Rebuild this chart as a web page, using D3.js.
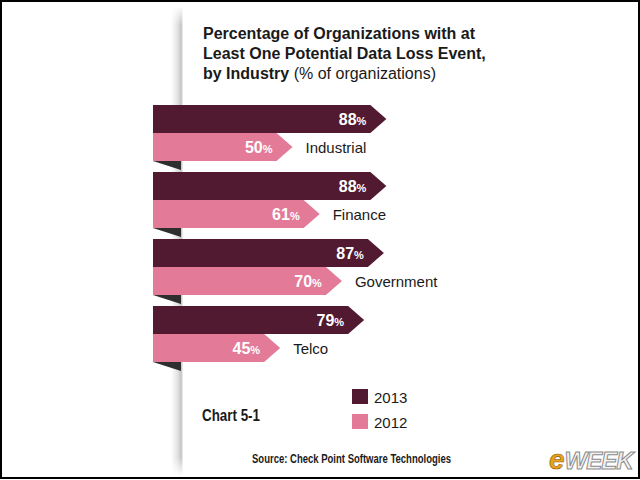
<!DOCTYPE html>
<html><head><meta charset="utf-8">
<script src="https://cdn.jsdelivr.net/npm/d3@7"></script>
<style>body{margin:0;background:#fff}svg{display:block}</style>
</head><body>
<script>
const categories = ["Industrial", "Finance", "Government", "Telco"];
const values2013 = [88, 88, 87, 79];
const values2012 = [50, 61, 70, 45];
const seriesNames = ["2013", "2012"];
const colors = {"2013": "#521a30", "2012": "#e27a98"};

const W = 640, H = 480;
const svg = d3.select("body").append("svg").attr("width", W).attr("height", H);

const defs = svg.append("defs");
const g1 = defs.append("linearGradient").attr("id", "shade").attr("x1", "0").attr("x2", "1");
g1.append("stop").attr("offset", "0").attr("stop-color", "#fff");
g1.append("stop").attr("offset", "0.55").attr("stop-color", "#e2e2e2");
g1.append("stop").attr("offset", "0.85").attr("stop-color", "#c4c4c4");
g1.append("stop").attr("offset", "1").attr("stop-color", "#f4f4f4");
const g2 = defs.append("linearGradient").attr("id", "vfade").attr("x1", "0").attr("x2", "0").attr("y1", "0").attr("y2", "1");
g2.append("stop").attr("offset", "0").attr("stop-color", "#fff").attr("stop-opacity", 1);
g2.append("stop").attr("offset", "0.04").attr("stop-color", "#fff").attr("stop-opacity", 0);
g2.append("stop").attr("offset", "0.96").attr("stop-color", "#fff").attr("stop-opacity", 0);
g2.append("stop").attr("offset", "1").attr("stop-color", "#fff").attr("stop-opacity", 1);

svg.append("rect").attr("width", W).attr("height", H).attr("fill", "#fff");
// spine shadow
svg.append("rect").attr("x", 171).attr("y", 6).attr("width", 12).attr("height", 470).attr("fill", "url(#shade)");
svg.append("rect").attr("x", 171).attr("y", 6).attr("width", 12).attr("height", 470).attr("fill", "url(#vfade)");

// title
const title = svg.append("text").attr("x", 203).attr("y", 39)
  .attr("font-family", "Liberation Sans, Arial, sans-serif").attr("font-size", 16).attr("fill", "#1a1a1a");
title.append("tspan").attr("x", 203).attr("font-weight", "bold").text("Percentage of Organizations with at");
title.append("tspan").attr("x", 203).attr("dy", 20).attr("font-weight", "bold").text("Least One Potential Data Loss Event,");
const t3 = title.append("tspan").attr("x", 203).attr("dy", 20);
t3.append("tspan").attr("font-weight", "bold").text("by Industry ");
t3.append("tspan").attr("font-weight", "normal").text("(% of organizations)");

const x = d3.scaleLinear().domain([0, 100]).range([153, 400]);
const y = d3.scaleBand().domain(categories).range([105, 362]).paddingInner(11 / 67);
const bh = y.bandwidth() / 2;
const tip = 16;

function arrowPath(v, y0) {
  const x0 = x(0), x1 = x(v);
  return `M${x0},${y0}L${x1},${y0}L${x1 + tip},${y0 + bh / 2}L${x1},${y0 + bh}L${x0},${y0 + bh}Z`;
}

const groups = svg.selectAll("g.grp").data(categories).join("g").attr("class", "grp");
groups.each(function (cat, i) {
  const g = d3.select(this);
  const y0 = y(cat);
  const rows = [{s: "2013", v: values2013[i], y: y0}, {s: "2012", v: values2012[i], y: y0 + bh}];
  // fold
  g.append("path").attr("d", `M${x(0)},${y0 + 2 * bh}L${x(0) + 28},${y0 + 2 * bh}L${x(0) + 28},${y0 + 2 * bh + 9}Z`).attr("fill", "#2e2e2e");
  rows.forEach(r => {
    g.append("path").attr("d", arrowPath(r.v, r.y)).attr("fill", colors[r.s]);
    const t = g.append("text").attr("x", x(r.v) - 4).attr("y", r.y + bh / 2 + 5.5)
      .attr("text-anchor", "end").attr("fill", "#fff").attr("font-weight", "bold")
      .attr("font-family", "Liberation Sans, Arial, sans-serif");
    t.append("tspan").attr("font-size", 16).text(r.v);
    t.append("tspan").attr("font-size", 11).text("%");
  });
  g.append("text").attr("x", x(values2012[i]) + tip + 13).attr("y", y0 + bh * 1.5 + 5.5)
    .attr("font-family", "Liberation Sans, Arial, sans-serif").attr("font-size", 15).attr("fill", "#1a1a1a")
    .text(cat);
});

// legend
seriesNames.forEach((s, i) => {
  svg.append("rect").attr("x", 352).attr("y", 389 + i * 25).attr("width", 16).attr("height", 15).attr("fill", colors[s]);
  svg.append("text").attr("x", 374).attr("y", 403 + i * 25)
    .attr("font-family", "Liberation Sans, Arial, sans-serif").attr("font-size", 15).attr("fill", "#1a1a1a").text(s);
});

svg.append("text").attr("x", 202).attr("y", 421)
  .attr("font-family", "Liberation Sans, Arial, sans-serif").attr("font-weight", "bold")
  .attr("font-size", 16).attr("fill", "#1a1a1a")
  .attr("textLength", 58).attr("lengthAdjust", "spacingAndGlyphs").text("Chart 5-1");

svg.append("text").attr("x", 252).attr("y", 463)
  .attr("font-family", "Liberation Sans, Arial, sans-serif").attr("font-weight", "bold")
  .attr("font-size", 12).attr("fill", "#1a1a1a")
  .attr("textLength", 199).attr("lengthAdjust", "spacingAndGlyphs").text("Source: Check Point Software Technologies");

// logo
const logo = svg.append("text").attr("x", 549).attr("y", 469)
  .attr("font-family", "Liberation Sans, Arial, sans-serif").attr("font-weight", "bold").attr("font-style", "italic");
logo.append("tspan").attr("font-size", 28).attr("fill", "#e8a21c").attr("stroke", "#8a5a10").attr("stroke-width", 0.6).text("e");
logo.append("tspan").attr("font-size", 24).attr("fill", "#f2f2f2").attr("stroke", "#8c8c8c").attr("stroke-width", 1).attr("letter-spacing", -1).text("WEEK");

// frame
svg.append("rect").attr("x", 1).attr("y", 1).attr("width", W - 2).attr("height", H - 3)
  .attr("fill", "none").attr("stroke", "#000").attr("stroke-width", 2);
</script>
</body></html>
